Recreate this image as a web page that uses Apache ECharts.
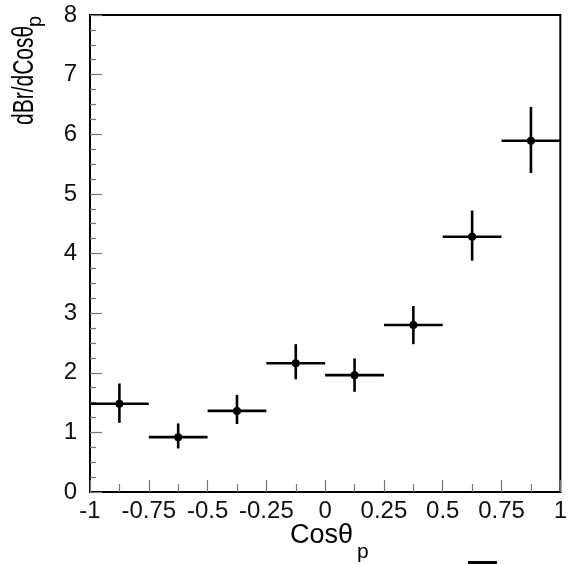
<!DOCTYPE html>
<html>
<head>
<meta charset="utf-8">
<script src="https://cdn.jsdelivr.net/npm/echarts@6/dist/echarts.min.js"></script>
<style>
html,body{margin:0;padding:0;background:#fff;}
#chart{width:570px;height:564px;}
</style>
</head>
<body>
<div id="chart"></div>
<script>
// Data
var xCenters = [-0.875, -0.625, -0.375, -0.125, 0.125, 0.375, 0.625, 0.875];
var xHalfWidth = [0.125, 0.125, 0.125, 0.125, 0.125, 0.125, 0.125, 0.125];
var yValues = [1.48, 0.92, 1.36, 2.16, 1.96, 2.80, 4.28, 5.89];
var yLow = [1.16, 0.73, 1.14, 1.89, 1.68, 2.48, 3.88, 5.35];
var yHigh = [1.82, 1.15, 1.63, 2.48, 2.24, 3.12, 4.72, 6.46];
var xTitle = 'Cosθ';
var xTitleSub = 'p';
var yTitle = 'dBr/dCosθ';
var yTitleSub = 'p';

var FONT = '"Liberation Sans", Arial, Helvetica, sans-serif';

var seriesData = xCenters.map(function (x, i) {
  return [x, yValues[i], xHalfWidth[i], yLow[i], yHigh[i]];
});

var chart = echarts.init(document.getElementById('chart'), null, {renderer: 'canvas'});

function renderItem(params, api) {
  var x = api.value(0), y = api.value(1), hw = api.value(2), lo = api.value(3), hi = api.value(4);
  var c = api.coord([x, y]);
  var l = api.coord([x - hw, y]);
  var r = api.coord([x + hw, y]);
  var t = api.coord([x, hi]);
  var b = api.coord([x, lo]);
  var st = {stroke: '#000', lineWidth: 2.6};
  return {
    type: 'group',
    children: [
      {type: 'line', shape: {x1: l[0], y1: l[1], x2: r[0], y2: r[1]}, style: st},
      {type: 'line', shape: {x1: t[0], y1: t[1], x2: b[0], y2: b[1]}, style: st},
      {type: 'circle', shape: {cx: c[0], cy: c[1], r: 4}, style: {fill: '#000'}}
    ]
  };
}

var option = {
  backgroundColor: '#fff',
  animation: false,
  grid: {left: 90, right: 3, top: 15, bottom: 72, show: true, borderColor: '#000', borderWidth: 2, backgroundColor: 'transparent'},
  xAxis: {
    type: 'value', min: -1, max: 1, interval: 0.25,
    axisLine: {show: true, onZero: false, lineStyle: {color: '#000', width: 2}},
    axisTick: {show: true, inside: true, length: 12, lineStyle: {color: '#777', width: 1.2}},
    minorTick: {show: true, splitNumber: 2, length: 8, lineStyle: {color: '#777', width: 1.2}},
    splitLine: {show: false},
    axisLabel: {color: '#111', fontSize: 24, fontFamily: FONT, margin: 7}
  },
  yAxis: {
    type: 'value', min: 0, max: 8, interval: 1,
    axisLine: {show: true, onZero: false, lineStyle: {color: '#000', width: 2}},
    axisTick: {show: true, inside: true, length: 12, lineStyle: {color: '#777', width: 1.2}},
    minorTick: {show: true, splitNumber: 4, length: 6, lineStyle: {color: '#777', width: 1.2}},
    splitLine: {show: false},
    axisLabel: {color: '#111', fontSize: 24, fontFamily: FONT, margin: 13}
  },
  series: [{
    type: 'custom',
    renderItem: renderItem,
    data: seriesData,
    encode: {x: 0, y: 1},
    clip: false
  }],
  graphic: [
    {type: 'text', left: 290, top: 522, style: {text: xTitle, font: '27px ' + FONT, fill: '#000'}},
    {type: 'text', left: 357, top: 542, style: {text: xTitleSub, font: '21px ' + FONT, fill: '#000'}},
    {type: 'text', x: 40, y: 125, rotation: Math.PI / 2, scaleX: 0.7, scaleY: 1,
      style: {text: yTitle, font: '30px ' + FONT, fill: '#000', align: 'left', verticalAlign: 'bottom'}},
    {type: 'text', x: 45, y: 27, rotation: Math.PI / 2,
      style: {text: yTitleSub, font: '20px ' + FONT, fill: '#000', align: 'left', verticalAlign: 'bottom'}},
    {type: 'rect', shape: {x: 468, y: 561, width: 29, height: 3}, style: {fill: '#000'}}
  ]
};
chart.setOption(option);
</script>
</body>
</html>
